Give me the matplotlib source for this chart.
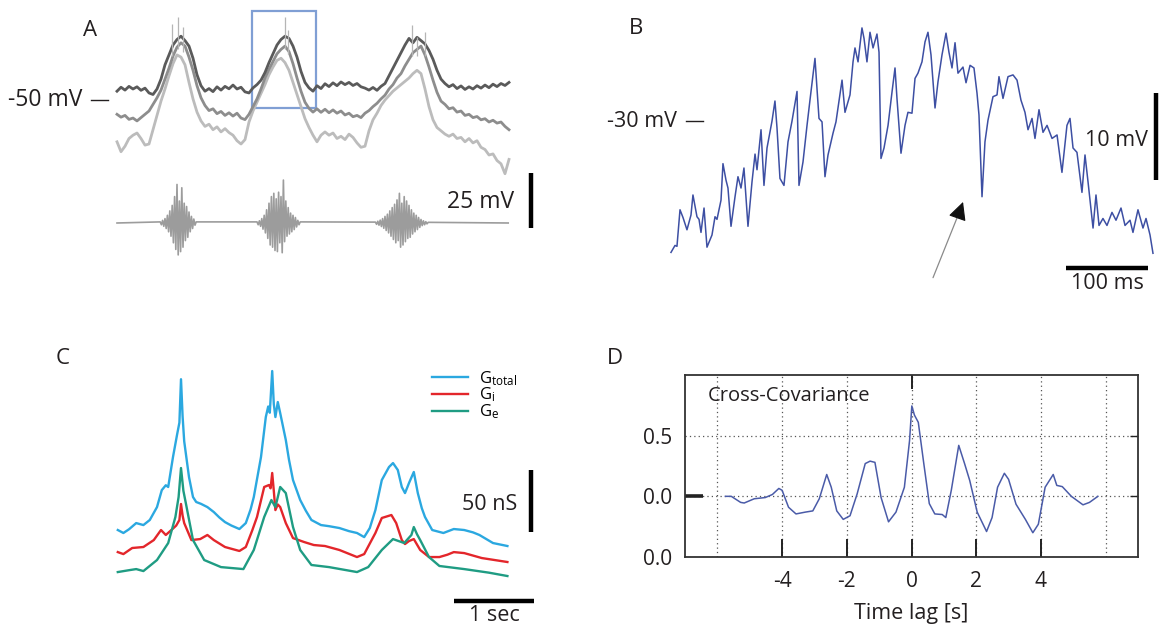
import numpy as np
import matplotlib
matplotlib.use("Agg")
import matplotlib.pyplot as plt
from matplotlib.patches import Rectangle

plt.rcParams['font.family'] = ['Open Sans', 'DejaVu Sans']
plt.rcParams['mathtext.default'] = 'regular'
TXT = '#231f20'

# ---------------- Panel A : three intracellular traces (mV), sampled every 0.05 s
A_DT = 0.05
a_dark = [-46.0, -44.2, -45.5, -43.8, -45.0, -44.0, -45.6, -44.6, -46.8, -47.5,
          -45.0, -40.5, -34.0, -29.5, -25.0, -22.5, -21.0, -23.0, -25.5, -31.0,
          -38.5, -43.5, -46.0, -44.8, -46.2, -44.0, -45.5, -43.8, -44.9, -43.2,
          -45.0, -44.2, -46.3, -46.8, -44.5, -43.0, -41.0, -37.5, -33.0, -29.0,
          -25.0, -22.5, -21.0, -22.0, -25.5, -30.5, -37.0, -42.0, -44.5, -46.0,
          -43.5, -44.8, -42.6, -43.9, -42.2, -43.5, -41.8, -43.0, -42.0, -43.4,
          -42.5, -44.0, -44.6, -45.5, -44.3, -45.6, -43.8, -42.5, -39.0, -35.5,
          -32.0, -28.5, -25.0, -22.0, -24.0, -21.5, -23.0, -24.5, -27.5, -31.5,
          -36.5, -40.5, -42.5, -44.0, -43.0, -44.8, -43.6, -45.2, -44.0, -45.0,
          -43.5, -44.6, -43.2, -44.4, -42.8, -43.9, -42.5, -43.4, -42.0]
a_mid = [-56.5, -57.8, -57.0, -58.8, -58.2, -59.5, -58.0, -56.5, -55.0, -52.0,
         -49.0, -45.5, -40.5, -35.5, -30.0, -26.0, -24.0, -25.5, -30.5, -36.5,
         -43.5, -49.0, -52.5, -54.8, -54.0, -56.2, -55.2, -57.0, -55.8, -57.3,
         -56.0, -58.2, -58.9, -56.5, -53.0, -49.5, -45.0, -40.0, -36.0, -32.5,
         -29.0, -27.0, -25.5, -28.0, -33.5, -40.0, -46.0, -51.0, -53.8, -55.5,
         -54.0, -55.6, -54.2, -55.8, -54.5, -56.0, -55.0, -56.8, -56.0, -57.6,
         -57.0, -58.0, -56.0, -54.8, -53.0, -51.5, -49.5, -47.8, -45.0, -43.0,
         -40.0, -38.0, -34.5, -31.5, -28.5, -27.0, -25.5, -29.5, -35.0, -41.0,
         -46.5, -50.5, -52.0, -54.0, -53.5, -55.5, -55.0, -57.0, -56.5, -58.0,
         -57.5, -59.0, -58.5, -60.0, -59.2, -60.5, -60.0, -62.0, -63.5]
a_light = [-69.0, -73.5, -71.0, -67.5, -66.0, -65.0, -67.5, -70.5, -70.0, -63.5,
           -57.0, -50.5, -45.0, -39.0, -33.5, -29.5, -30.5, -34.0, -42.0, -49.5,
           -55.5, -59.5, -62.0, -61.0, -63.5, -62.2, -64.5, -63.0, -64.8, -66.0,
           -68.5, -70.0, -68.0, -60.0, -55.0, -51.0, -47.0, -43.0, -38.5, -35.0,
           -32.0, -31.0, -33.0, -36.5, -42.0, -47.5, -53.0, -58.5, -62.5, -66.0,
           -69.0, -66.0, -64.5, -66.0, -65.0, -67.5, -66.5, -68.0, -65.5, -67.0,
           -69.5, -71.5, -71.0, -64.0, -59.0, -56.0, -52.5, -50.0, -48.0, -46.0,
           -44.5, -43.0, -41.5, -40.0, -38.0, -36.5, -38.0, -45.0, -53.0, -59.0,
           -62.5, -64.0, -65.5, -66.5, -65.5, -67.5, -67.0, -69.0, -67.5, -69.5,
           -68.5, -71.5, -72.5, -75.0, -74.5, -77.5, -79.0, -83.5, -77.0]
# action-potential tips riding on the depolarisations
a_spike_t = [0.74, 0.81, 0.875, 2.15, 2.19, 3.74, 3.80, 3.90]
a_spike_top = [-15.5, -12.3, -16.8, -12.3, -18.2, -15.9, -21.4, -19.1]
a_spike_base = [-30.0, -27.0, -28.0, -27.0, -29.0, -30.0, -30.0, -30.0]

# extracellular bursts (sampled every 0.015 s inside each burst)
EXT_DT = 0.015
ext_b1_t0, ext_b2_t0, ext_b3_t0 = 0.59, 1.80, 3.28
ext_b1 = [0.5, -0.8, 1.2, -1.5, 2.0, -2.5, 3.5, -4.0, 5.5, -6.0, 8.0, -9.0, 12.0, -12.0,
          17.5, -14.5, 10.0, -13.0, 16.0, -11.0, 9.0, -8.0, 7.5, -6.5, 5.0, -4.0, 3.0,
          -2.5, 1.8, -1.0, 0.5]
ext_b2 = [0.5, -0.8, 1.0, -1.5, 2.0, -2.8, 3.5, -4.5, 6.0, -7.0, 9.0, -10.0, 12.0, -11.0,
          13.5, -12.5, 11.0, -13.0, 14.0, -9.0, 12.0, -13.5, 19.5, -8.5, 10.0, -6.0, 7.0,
          -5.0, 4.5, -4.0, 3.5, -3.0, 2.5, -1.8, 1.2, -0.8, 0.5]
ext_b3 = [0.4, -0.6, 0.8, -1.0, 1.3, -1.6, 2.0, -2.4, 3.0, -3.4, 4.0, -4.5, 5.5, -6.0,
          7.0, -7.5, 8.5, -9.0, 10.5, -8.0, 13.5, -11.0, 9.0, -10.0, 12.0, -8.5, 10.0,
          -7.0, 8.0, -6.5, 6.0, -5.0, 4.5, -4.0, 3.5, -3.0, 2.5, -2.0, 1.6, -1.2, 1.0,
          -0.8, 0.6, -0.4, 0.3]
ext_span = [0.05, 4.94]

# ---------------- Panel B : zoomed membrane potential (ms, mV)
b_time = [1.2, 6.1, 8.5, 12.2, 15.9, 20.7, 25.6, 28.0, 32.9, 35.4,
          37.8, 41.5, 45.1, 51.2, 54.9, 57.3, 62.2, 64.6, 68.3, 70.7,
          74.4, 79.3, 82.9, 86.6, 90.2, 95.1, 100.0, 103.7, 106.1, 111.0,
          114.6, 118.3, 124.4, 128.0, 130.5, 134.1, 139.0, 143.9, 148.8, 154.9,
          157.3, 162.2, 167.1, 170.7, 176.8, 181.7, 185.4, 189.0, 192.7, 198.8,
          202.4, 209.8, 213.4, 219.5, 223.2, 225.6, 229.3, 234.1, 236.6, 240.2,
          243.9, 247.6, 252.4, 254.9, 257.3, 261.0, 265.9, 270.7, 274.4, 276.8,
          281.7, 286.6, 290.2, 295.1, 298.8, 302.4, 307.3, 311.0, 314.6, 318.3,
          323.2, 326.8, 331.7, 336.6, 340.2, 343.9, 347.6, 351.2, 357.3, 361.0,
          365.9, 370.7, 374.4, 376.8, 380.5, 384.1, 387.8, 393.9, 398.8, 401.2,
          406.1, 412.2, 418.3, 423.2, 428.0, 432.9, 436.6, 441.5, 445.1, 450.0,
          454.9, 459.8, 465.9, 472.0, 478.0, 484.1, 487.8, 491.5, 496.3, 502.4,
          506.1, 509.8, 515.9, 519.5, 523.2, 528.0, 532.9, 539.0, 543.9, 550.0,
          554.9, 561.0, 564.6, 570.7, 576.8, 580.5, 585.4, 589.0]
b_mv = [-45.1, -44.3, -44.4, -40.2, -41.1, -42.5, -40.8, -38.5, -41.0, -41.3,
        -42.8, -40.0, -44.5, -43.1, -41.0, -41.3, -39.1, -34.9, -36.8, -37.7,
        -42.1, -38.7, -36.4, -37.7, -35.4, -42.1, -37.0, -33.8, -35.6, -31.0,
        -37.4, -33.1, -30.0, -27.7, -30.8, -36.6, -37.4, -32.4, -30.0, -26.6,
        -37.4, -34.7, -30.5, -27.6, -22.8, -29.7, -30.1, -36.4, -33.9, -31.4,
        -30.1, -25.3, -29.0, -27.0, -23.2, -21.6, -23.2, -19.3, -20.5, -23.2,
        -19.8, -21.6, -20.0, -22.1, -34.3, -33.1, -30.5, -26.7, -23.9, -27.4,
        -33.7, -30.5, -29.0, -29.1, -25.1, -24.5, -23.2, -20.9, -19.8, -22.4,
        -28.5, -25.5, -22.4, -19.9, -22.1, -23.9, -21.0, -24.5, -23.8, -25.6,
        -23.6, -23.9, -26.8, -29.3, -38.7, -32.4, -29.9, -27.2, -27.0, -24.9,
        -27.4, -24.9, -24.7, -25.3, -27.6, -29.0, -31.0, -29.7, -32.0, -28.7,
        -31.3, -30.5, -32.0, -31.6, -35.9, -30.5, -29.7, -33.1, -33.6, -38.2,
        -33.9, -37.0, -42.3, -38.5, -42.0, -41.2, -42.0, -40.5, -41.4, -40.0,
        -42.0, -41.4, -42.8, -40.2, -42.3, -41.2, -43.1, -45.2]

# ---------------- Panel C : conductances (s, nS)
gt_t = [0.06, 0.13, 0.20, 0.29, 0.38, 0.46, 0.55, 0.61, 0.66, 0.69, 0.75, 0.80, 0.83, 0.85,
        0.87, 0.89, 0.95, 1.00, 1.04, 1.10, 1.18, 1.26, 1.33, 1.40, 1.48, 1.58, 1.66, 1.72,
        1.76, 1.85, 1.91, 1.94, 1.96, 1.99, 2.01, 2.03, 2.06, 2.09, 2.16, 2.20, 2.25, 2.34,
        2.41, 2.48, 2.60, 2.70, 2.83, 2.95, 3.05, 3.14, 3.21, 3.28, 3.36, 3.45, 3.50, 3.56,
        3.61, 3.65, 3.68, 3.70, 3.76, 3.81, 3.86, 3.90, 3.99, 4.13, 4.26, 4.39, 4.50, 4.58,
        4.75, 4.93]
g_total = [48.4, 46.0, 49.0, 54.0, 52.4, 56.5, 66.9, 80.6, 84.5, 83.1, 107.3, 125.0, 135.0,
           170.0, 140.0, 120.0, 91.1, 75.0, 71.0, 69.5, 66.9, 62.9, 58.5, 54.8, 52.0, 49.2,
           54.0, 65.0, 75.0, 107.3, 139.5, 148.0, 143.0, 176.6, 150.0, 139.5, 151.6, 142.7,
           121.0, 105.0, 88.7, 72.6, 64.0, 56.5, 52.4, 51.5, 50.0, 47.5, 46.0, 42.7, 50.0,
           64.5, 88.7, 99.2, 102.4, 96.8, 83.1, 78.2, 83.0, 86.3, 95.2, 78.2, 66.0, 58.9,
           48.4, 46.0, 49.2, 48.4, 46.5, 44.4, 37.9, 35.5]
gi_t = [0.06, 0.13, 0.24, 0.38, 0.51, 0.60, 0.66, 0.73, 0.79, 0.83, 0.85, 0.87, 0.89, 0.98,
        1.09, 1.18, 1.26, 1.40, 1.58, 1.66, 1.74, 1.80, 1.89, 1.95, 1.97, 1.99, 2.01, 2.03,
        2.06, 2.09, 2.16, 2.25, 2.39, 2.51, 2.65, 2.83, 3.05, 3.14, 3.28, 3.36, 3.48, 3.54,
        3.61, 3.65, 3.70, 3.76, 3.84, 3.95, 4.08, 4.18, 4.26, 4.39, 4.61, 4.93]
g_i = [30.6, 29.0, 33.9, 34.7, 40.3, 48.4, 44.4, 48.4, 52.0, 56.5, 69.4, 60.0, 54.0, 40.3,
       41.1, 44.4, 40.3, 34.7, 31.5, 34.7, 48.0, 58.9, 83.1, 84.7, 82.0, 94.4, 80.0, 64.5,
       69.0, 66.9, 54.0, 41.9, 38.7, 36.3, 35.5, 32.3, 26.6, 29.0, 46.0, 58.1, 60.5, 54.0,
       40.3, 37.1, 39.5, 41.1, 32.3, 26.6, 26.6, 28.5, 30.6, 29.8, 25.8, 22.6]
ge_t = [0.06, 0.20, 0.29, 0.38, 0.55, 0.69, 0.78, 0.82, 0.85, 0.88, 0.91, 1.00, 1.14, 1.35,
        1.63, 1.76, 1.89, 1.98, 2.03, 2.09, 2.16, 2.25, 2.34, 2.48, 2.70, 3.05, 3.19, 3.36,
        3.50, 3.64, 3.73, 3.76, 3.80, 3.84, 3.95, 4.08, 4.39, 4.70, 4.93]
g_e = [14.5, 16.0, 16.9, 15.3, 24.2, 37.9, 58.9, 75.0, 98.4, 80.0, 70.2, 40.3, 24.2, 18.5,
       16.9, 32.3, 58.9, 72.6, 66.9, 83.1, 78.2, 50.8, 32.3, 20.2, 18.5, 14.5, 18.5, 32.3,
       41.1, 37.9, 44.4, 50.8, 45.0, 40.3, 26.6, 19.4, 16.9, 14.0, 11.3]
c_labels = [r'$\mathregular{G_{total}}$', r'$\mathregular{G_{i}}$', r'$\mathregular{G_{e}}$']

# ---------------- Panel D : cross-covariance
d_lag = [-5.75, -5.57, -5.28, -5.17, -4.86, -4.52, -4.30, -4.10, -4.00, -3.80, -3.57, -3.28,
         -3.05, -2.85, -2.62, -2.48, -2.31, -2.11, -1.90, -1.68, -1.43, -1.28, -1.13, -0.94,
         -0.71, -0.48, -0.22, -0.06, 0.01, 0.09, 0.21, 0.38, 0.55, 0.72, 0.95, 1.06, 1.23,
         1.46, 1.64, 1.80, 2.03, 2.32, 2.49, 2.66, 2.87, 3.00, 3.23, 3.52, 3.75, 3.92, 4.13,
         4.38, 4.49, 4.66, 4.94, 5.30, 5.50, 5.76]
d_cov = [0.0, 0.0, -0.05, -0.055, -0.02, -0.01, 0.015, 0.065, 0.05, -0.09, -0.145, -0.13,
         -0.12, -0.02, 0.18, 0.075, -0.12, -0.19, -0.16, 0.02, 0.27, 0.29, 0.28, -0.01,
         -0.21, -0.13, 0.075, 0.46, 0.745, 0.67, 0.61, 0.27, -0.06, -0.145, -0.15, -0.175,
         0.05, 0.42, 0.27, 0.13, -0.13, -0.29, -0.175, 0.075, 0.19, 0.14, -0.065, -0.19,
         -0.30, -0.23, 0.075, 0.18, 0.09, 0.08, 0.0, -0.07, -0.05, 0.0]
d_xticks = [-6, -4, -2, 0, 2, 4, 6]
d_xticklabels = ['', '-4', '-2', '0', '2', '4', '']
d_yticks = [-0.5, 0.0, 0.5]
d_yticklabels = ['0.0', '0.0', '0.5']

# ======================================================================
W, H = 1159, 626
fig = plt.figure(figsize=(W / 100, H / 100), dpi=100)


def px_axes(x0, y0, x1, y1):
    return fig.add_axes([x0 / W, 1 - y1 / H, (x1 - x0) / W, (y1 - y0) / H])


# ---------------- A
axA = px_axes(0, 0, 560, 300)
axA.set_xlim(-1.4125, 5.5875)
axA.set_ylim(-140.9, -4.545)
axA.axis('off')
a_time = A_DT * np.arange(1, len(a_dark) + 1)
axA.plot(a_time, a_light, color='#bcbcbc', lw=2.0)
axA.plot(a_time, a_mid, color='#8d8d8d', lw=2.0)
axA.plot(a_time, a_dark, color='#5a5a5a', lw=2.0)
axA.vlines(a_spike_t, a_spike_base, a_spike_top, color='#b5b5b5', lw=0.9)

EXT_BASE = -105.9
ext_t = np.concatenate([[ext_span[0]],
                        ext_b1_t0 + EXT_DT * np.arange(len(ext_b1)),
                        ext_b2_t0 + EXT_DT * np.arange(len(ext_b2)),
                        ext_b3_t0 + EXT_DT * np.arange(len(ext_b3)),
                        [ext_span[1]]])
ext_v = np.concatenate([[0.0], ext_b1, ext_b2, ext_b3, [0.0]])
axA.plot(ext_t, ext_v + EXT_BASE, color='#9c9c9c', lw=1.2)

# zoom window shown in B
zoom_t0, zoom_t1, zoom_v0, zoom_v1 = 1.7375, 2.5375, -53.6, -9.55
axA.add_patch(Rectangle((zoom_t0, zoom_v0), zoom_t1 - zoom_t0, zoom_v1 - zoom_v0,
                        fill=False, edgecolor='#809fd4', lw=1.6))
axA.plot([-0.27, -0.06], [-50, -50], color=TXT, lw=1.0, clip_on=False)
axA.text(-0.38, -50, '-50 mV', ha='right', va='center', fontsize=16.5, color=TXT)
axA.plot([5.225, 5.225], [-108, -83], color='black', lw=3.2, solid_capstyle='butt',
         clip_on=False)
axA.text(5.02, -96.4, '25 mV', ha='right', va='center', fontsize=16.5, color=TXT)

# ---------------- B
axB = px_axes(590, 0, 1159, 300)
axB.set_xlim(-97.56, 596.34)
axB.set_ylim(-50.57, -16.09)
axB.axis('off')
axB.plot(b_time, b_mv, color='#3d4fa3', lw=1.1)
axB.plot([19.5, 40.0], [-30, -30], color=TXT, lw=1.0)
axB.text(9.0, -30, '-30 mV', ha='right', va='center', fontsize=15.5, color=TXT)
axB.plot([592.7, 592.7], [-36.8, -26.8], color='black', lw=3.2, solid_capstyle='butt',
         clip_on=False)
axB.text(583, -32.2, '10 mV', ha='right', va='center', fontsize=15.5, color=TXT)
axB.plot([483, 583], [-46.9, -46.9], color='black', lw=3.2, solid_capstyle='butt')
axB.text(533, -48.7, '100 ms', ha='center', va='center', fontsize=15.5, color=TXT)
axB.annotate('', xy=(354.0, -40.2), xytext=(319.5, -48.3),
             arrowprops=dict(arrowstyle='-', color='#8a8a8a', lw=0.9))
axB.annotate('', xy=(358.5, -39.0), xytext=(351.0, -41.0),
             arrowprops=dict(arrowstyle='-|>', color='#111111', lw=0.8,
                             mutation_scale=28))

# ---------------- C
axC = px_axes(0, 330, 560, 626)
axC.set_xlim(-1.4125, 5.5875)
axC.set_ylim(-29.0, 209.7)
axC.axis('off')
l1, = axC.plot(gt_t, g_total, color='#2ba8e0', lw=1.7)
l2, = axC.plot(gi_t, g_i, color='#e3262b', lw=1.7)
l3, = axC.plot(ge_t, g_e, color='#1f9c83', lw=1.7)
axC.legend([l1, l2, l3], c_labels, loc='upper left', bbox_to_anchor=(0.771, 0.868),
           frameon=False, fontsize=12, handlelength=2.2, handletextpad=0.65,
           labelspacing=-0.12, borderpad=0, borderaxespad=0)
axC.plot([5.225, 5.225], [47, 97], color='black', lw=3.2, solid_capstyle='butt',
         clip_on=False)
axC.text(5.05, 69, '50 nS', ha='right', va='center', fontsize=15.5, color=TXT)
axC.plot([4.26, 5.26], [-8.6, -8.6], color='black', lw=3.2, solid_capstyle='butt',
         clip_on=False)
axC.text(4.77, -20.2, '1 sec', ha='center', va='center', fontsize=15.5, color=TXT)

# ---------------- D
axD = px_axes(685, 375, 1138, 557)
axD.set_axisbelow(True)
axD.plot(d_lag, d_cov, color='#4a5ba8', lw=1.1)
axD.set_xlim(-7, 7)
axD.set_ylim(-0.5, 1.0)
axD.set_xticks(d_xticks)
axD.set_xticklabels(d_xticklabels)
axD.set_yticks(d_yticks)
axD.set_yticklabels(d_yticklabels)
axD.grid(True, color='#555555', ls=(0, (1, 2.5)), lw=0.9)
axD.tick_params(axis='x', direction='in', length=13, width=1.4, pad=10,
                labelsize=15, top=True, colors='#222222', labelcolor=TXT)
axD.tick_params(axis='y', direction='in', length=6, width=1.0, pad=9,
                labelsize=15, left=True, right=True, colors='#222222', labelcolor=TXT)
for tk, loc in zip(axD.xaxis.get_major_ticks(), d_xticks):
    if abs(loc) == 6:
        tk.tick1line.set_visible(False)
    if loc != 0:
        tk.tick2line.set_visible(False)
    else:
        tk.tick2line.set_markersize(10)
ytk = axD.yaxis.get_major_ticks()
ytk[0].tick1line.set_visible(False)
ytk[0].tick2line.set_visible(False)
ytk[1].tick1line.set_markersize(13)
ytk[1].tick1line.set_markeredgewidth(2.6)
ytk[2].tick1line.set_visible(False)
for sp in axD.spines.values():
    sp.set_color('#333333')
    sp.set_linewidth(1.3)
axD.set_xlabel('Time lag [s]', fontsize=15.5, color=TXT, labelpad=8)
axD.text(-6.3, 0.83, 'Cross-Covariance', ha='left', va='center', fontsize=14.5,
         color=TXT)

# ---------------- panel letters
for lab, (px, py) in {'A': (90, 31), 'B': (636, 28), 'C': (63, 358),
                      'D': (615, 358)}.items():
    fig.text(px / W, 1 - py / H, lab, ha='center', va='center', fontsize=16, color=TXT)

fig.savefig('out.png', dpi=100, facecolor='white')
